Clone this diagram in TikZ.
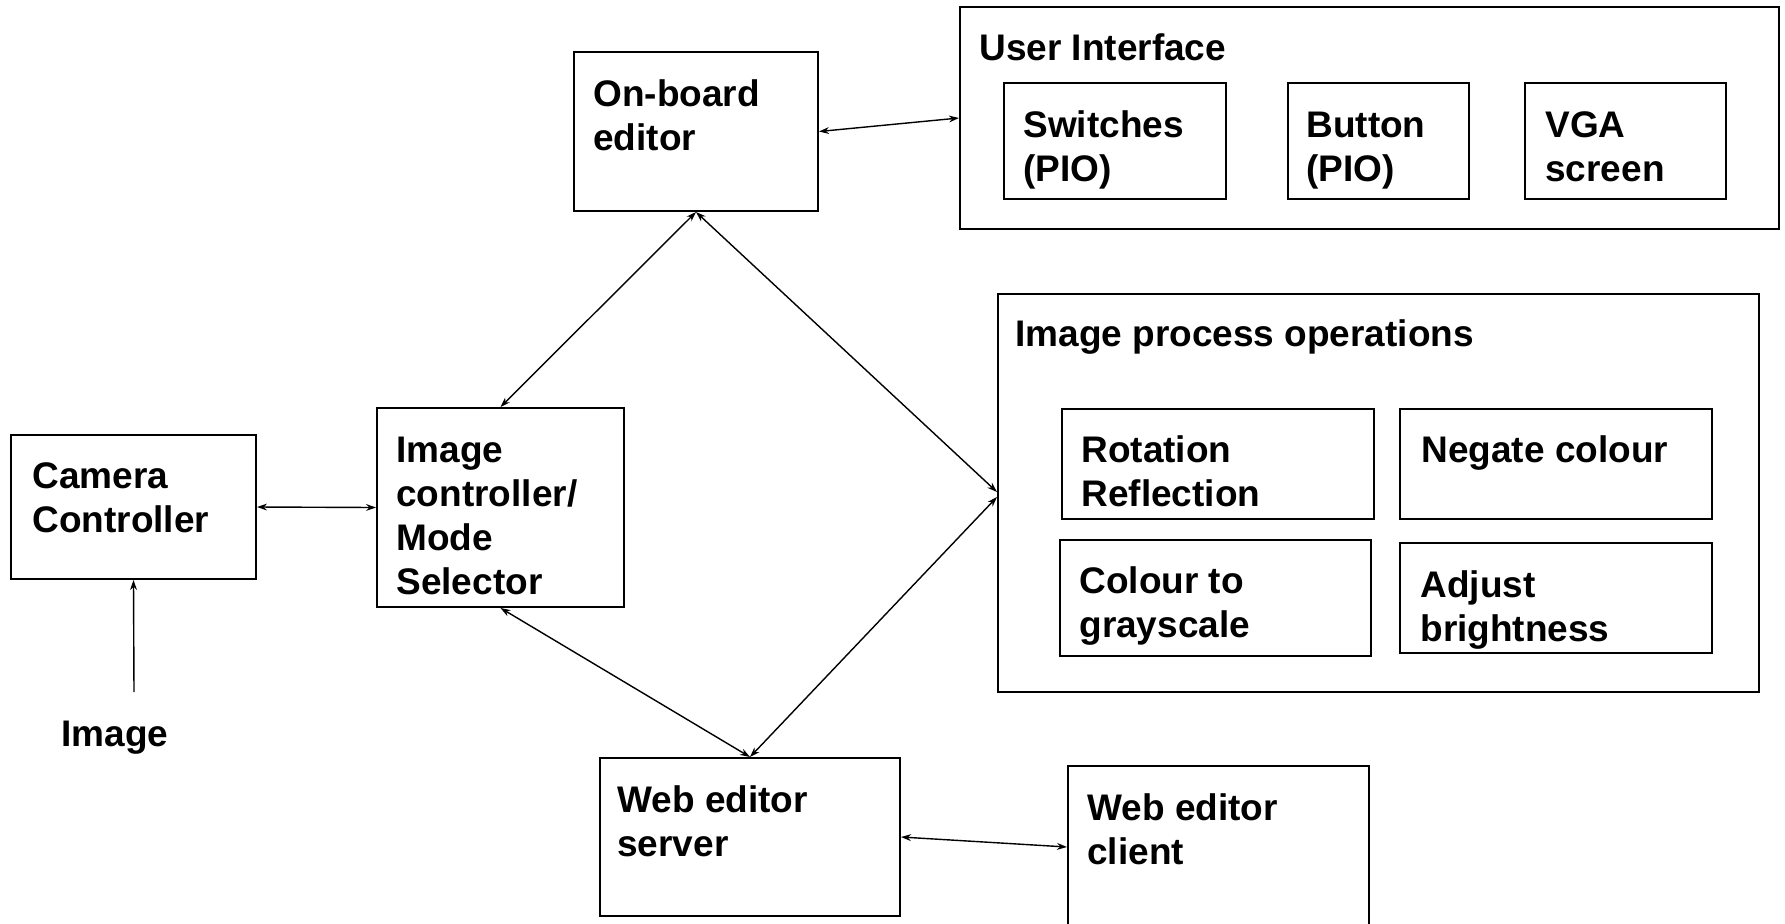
\documentclass[tikz,border=0pt]{standalone}
\usepackage{fontspec}
\setmainfont{Liberation Sans}
\usetikzlibrary{fit,calc,arrows.meta}
\newcommand\fl{\rule{0pt}{14pt}}
\begin{document}
\begin{tikzpicture}[x=0.5pt,y=-0.5pt,
  box/.style={draw, line width=1pt, inner sep=0pt},
  lbl/.style={anchor=north west, inner sep=0pt, align=left,
    font=\bfseries\fontsize{18.5}{22}\selectfont},
  tip/.style={Stealth[length=5pt,width=3.4pt]},
  conn/.style={line width=0.7pt, {Stealth[length=5pt,width=3.4pt]}-{Stealth[length=5pt,width=3.4pt]}},
  single/.style={line width=0.7pt, -{Stealth[length=5pt,width=3.4pt]}},
]
\useasboundingbox (0,0) rectangle (1785,923);
\clip (0,0) rectangle (1785,923);

% boxes
\node[box, fit={(574,52) (818,211)}] (ob) {};
\node[box, fit={(960,7) (1779,229)}] (ui) {};
\node[box, fit={(1004,83) (1226,199)}] (sw) {};
\node[box, fit={(1288,83) (1469,199)}] (bt) {};
\node[box, fit={(1525,83) (1726,199)}] (vga) {};
\node[box, fit={(998,294) (1759,692)}] (ipo) {};
\node[box, fit={(1062,409) (1374,519)}] (rot) {};
\node[box, fit={(1400,409) (1712,519)}] (neg) {};
\node[box, fit={(1060,540) (1371,656)}] (gray) {};
\node[box, fit={(1400,543) (1712,653)}] (adj) {};
\node[box, fit={(11,435) (256,579)}] (cam) {};
\node[box, fit={(377,408) (624,607)}] (ic) {};
\node[box, fit={(600,758) (900,916)}] (ws) {};
\node[box, fit={(1068,766) (1369,928)}] (wc) {};

% labels
\node[lbl] (tob) at (593,78) {\fl On-board\\editor};
\node[lbl] (tui) at (979,32) {\fl User Interface};
\node[lbl] (tsw) at (1023,109) {\fl Switches\\(PIO)};
\node[lbl] (tbt) at (1306,109) {\fl Button\\(PIO)};
\node[lbl] (tvga) at (1545,109) {\fl VGA\\screen};
\node[lbl] (tipo) at (1015,318) {\fl Image process operations};
\node[lbl] (trot) at (1081,434) {\fl Rotation\\Reflection};
\node[lbl] (tneg) at (1421,434) {\fl Negate colour};
\node[lbl] (tgray) at (1079,565) {\fl Colour to\\grayscale};
\node[lbl] (tadj) at (1420,569) {\fl Adjust\\brightness};
\node[lbl] (tcam) at (32,460) {\fl Camera\\Controller};
\node[lbl] (tic) at (396,434) {\fl Image\\controller/\\Mode\\Selector};
\node[lbl] (timg) at (61,718) {\fl Image};
\node[lbl] (tws) at (617,784) {\fl Web editor\\server};
\node[lbl] (twc) at (1087,792) {\fl Web editor\\client};

% connectors
\coordinate (imgsrc) at (134,692);
\draw[single] (imgsrc) -- (cam.south);
\draw[conn] (cam.east) -- (ic.west);
\draw[conn] (ob.east) -- (ui.west);
\draw[conn] (ob.south) -- (ic.north);
\draw[conn] (ob.south) -- ($(ipo.west)+(0,-1)$);
\draw[conn] (ic.south) -- (ws.north);
\draw[conn] (ws.north) -- ($(ipo.west)+(0,4)$);
\draw[conn] (ws.east) -- (wc.west);
\end{tikzpicture}
\end{document}
